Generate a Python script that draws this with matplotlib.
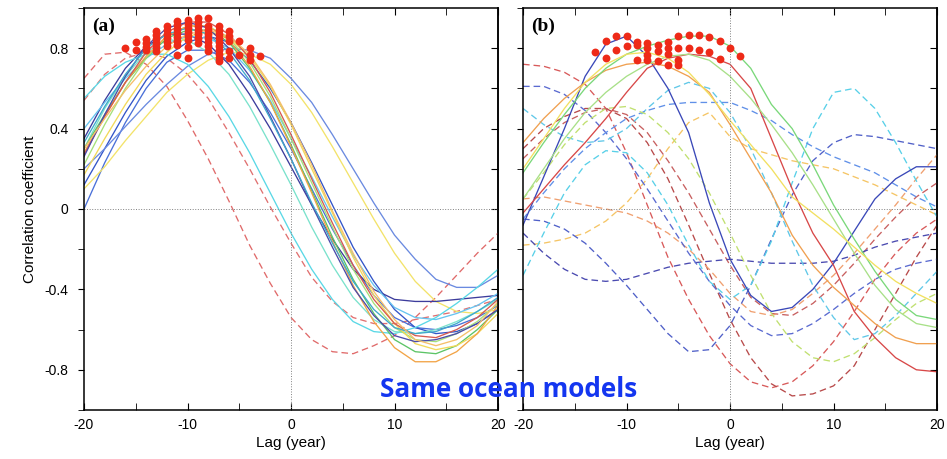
import numpy as np
import matplotlib
matplotlib.use("Agg")
import matplotlib.pyplot as plt
from matplotlib.ticker import MultipleLocator

plt.rcParams['font.family'] = ['Liberation Sans', 'DejaVu Sans']
plt.rcParams['axes.unicode_minus'] = False

# lag axis (years), every 2 years
lag = np.arange(-20, 21, 2)

# ---------------- panel (a): correlation curves ----------------
a_blue1 = [0.00, 0.23, 0.43, 0.60, 0.73, 0.79, 0.79, 0.74, 0.63, 0.48, 0.30, 0.10, -0.10, -0.28, -0.43, -0.54, -0.59, -0.60, -0.58, -0.54, -0.48]
a_blue2 = [0.12, 0.30, 0.48, 0.64, 0.76, 0.83, 0.86, 0.83, 0.74, 0.60, 0.43, 0.23, 0.02, -0.19, -0.36, -0.50, -0.59, -0.62, -0.61, -0.57, -0.50]
a_yellow1 = [0.10, 0.21, 0.34, 0.46, 0.58, 0.67, 0.74, 0.78, 0.77, 0.72, 0.62, 0.48, 0.31, 0.13, -0.05, -0.22, -0.36, -0.46, -0.51, -0.52, -0.50]
a_blue3 = [0.20, 0.30, 0.41, 0.52, 0.62, 0.71, 0.77, 0.80, 0.79, 0.75, 0.65, 0.53, 0.37, 0.20, 0.03, -0.13, -0.25, -0.35, -0.39, -0.39, -0.33]
a_navy1 = [0.35, 0.54, 0.70, 0.81, 0.87, 0.87, 0.82, 0.72, 0.57, 0.40, 0.21, 0.02, -0.15, -0.30, -0.40, -0.45, -0.46, -0.46, -0.45, -0.44, -0.43]
a_sky = [0.40, 0.53, 0.65, 0.75, 0.82, 0.86, 0.85, 0.80, 0.69, 0.54, 0.35, 0.16, -0.04, -0.23, -0.38, -0.49, -0.54, -0.55, -0.52, -0.48, -0.42]
a_cyan = [0.55, 0.66, 0.73, 0.77, 0.77, 0.72, 0.61, 0.46, 0.28, 0.08, -0.12, -0.30, -0.45, -0.56, -0.61, -0.62, -0.59, -0.54, -0.47, -0.39, -0.30]
a_turq = [0.30, 0.50, 0.66, 0.78, 0.84, 0.84, 0.78, 0.67, 0.51, 0.32, 0.12, -0.09, -0.28, -0.44, -0.55, -0.61, -0.62, -0.60, -0.56, -0.51, -0.45]
a_green = [0.30, 0.47, 0.63, 0.75, 0.85, 0.89, 0.89, 0.83, 0.70, 0.53, 0.32, 0.09, -0.14, -0.35, -0.52, -0.65, -0.71, -0.72, -0.68, -0.60, -0.50]
a_lgreen = [0.22, 0.42, 0.60, 0.75, 0.86, 0.91, 0.91, 0.85, 0.73, 0.56, 0.35, 0.13, -0.09, -0.30, -0.47, -0.59, -0.65, -0.66, -0.62, -0.56, -0.47]
a_yellow2 = [0.17, 0.35, 0.52, 0.67, 0.78, 0.86, 0.88, 0.85, 0.76, 0.61, 0.42, 0.20, -0.02, -0.24, -0.43, -0.57, -0.67, -0.70, -0.68, -0.62, -0.52]
a_orange1 = [0.28, 0.46, 0.63, 0.76, 0.86, 0.91, 0.91, 0.84, 0.71, 0.53, 0.31, 0.08, -0.16, -0.38, -0.56, -0.69, -0.76, -0.76, -0.71, -0.62, -0.48]
a_red = [0.27, 0.46, 0.63, 0.78, 0.88, 0.93, 0.93, 0.87, 0.75, 0.58, 0.37, 0.15, -0.07, -0.28, -0.45, -0.57, -0.63, -0.64, -0.60, -0.54, -0.45]
a_navy2 = [0.26, 0.47, 0.66, 0.81, 0.90, 0.93, 0.90, 0.80, 0.66, 0.46, 0.25, 0.02, -0.19, -0.39, -0.53, -0.63, -0.66, -0.65, -0.62, -0.57, -0.50]
a_teal = [0.33, 0.51, 0.67, 0.80, 0.87, 0.90, 0.87, 0.78, 0.64, 0.45, 0.25, 0.03, -0.17, -0.36, -0.50, -0.59, -0.62, -0.61, -0.57, -0.51, -0.44]
a_orange2 = [0.30, 0.45, 0.59, 0.71, 0.81, 0.87, 0.89, 0.86, 0.77, 0.62, 0.43, 0.22, -0.01, -0.22, -0.41, -0.55, -0.65, -0.68, -0.65, -0.58, -0.46]
a_dash1 = [0.65, 0.77, 0.78, 0.72, 0.61, 0.44, 0.25, 0.04, -0.18, -0.37, -0.54, -0.65, -0.71, -0.72, -0.68, -0.63, -0.54, -0.44, -0.33, -0.22, -0.12]
a_dash2 = [0.54, 0.67, 0.75, 0.78, 0.75, 0.67, 0.55, 0.38, 0.20, 0.01, -0.17, -0.34, -0.46, -0.54, -0.57, -0.57, -0.55, -0.53, -0.51, -0.48, -0.45]

# significant maxima (red dots), panel (a)
dots_a_lag = [-16, -15, -15, -14, -14, -14, -14,
              -13, -13, -13, -13, -13, -13, -12, -12, -12, -12, -12, -12,
              -11, -11, -11, -11, -11, -11, -11, -11,
              -10, -10, -10, -10, -10, -10, -10, -10,
              -9, -9, -9, -9, -9, -9, -9,
              -8, -8, -8, -8, -8, -8, -8, -8,
              -7, -7, -7, -7, -7, -7, -7, -7, -7, -7,
              -6, -6, -6, -6, -6, -5, -5, -4, -4, -4, -3]
dots_a_r = [0.80, 0.83, 0.79, 0.845, 0.825, 0.805, 0.79,
            0.885, 0.865, 0.845, 0.825, 0.805, 0.785, 0.91, 0.89, 0.87, 0.85, 0.83, 0.81,
            0.935, 0.915, 0.895, 0.875, 0.855, 0.835, 0.815, 0.765,
            0.94, 0.92, 0.90, 0.88, 0.86, 0.84, 0.805, 0.75,
            0.95, 0.93, 0.91, 0.89, 0.87, 0.85, 0.825,
            0.95, 0.91, 0.89, 0.87, 0.85, 0.83, 0.81, 0.785,
            0.91, 0.89, 0.87, 0.85, 0.83, 0.81, 0.79, 0.77, 0.75, 0.735,
            0.885, 0.86, 0.835, 0.785, 0.75, 0.835, 0.765, 0.80, 0.765, 0.74, 0.76]

# ---------------- panel (b) ----------------
b_blue = [-0.08, 0.16, 0.40, 0.66, 0.82, 0.86, 0.76, 0.60, 0.38, 0.03, -0.25, -0.43, -0.51, -0.49, -0.40, -0.27, -0.11, 0.05, 0.15, 0.21, 0.21]
b_red = [-0.02, 0.10, 0.22, 0.33, 0.45, 0.58, 0.70, 0.75, 0.77, 0.76, 0.72, 0.60, 0.35, 0.10, -0.12, -0.28, -0.51, -0.64, -0.74, -0.80, -0.81]
b_orange = [0.33, 0.45, 0.55, 0.63, 0.69, 0.72, 0.73, 0.71, 0.66, 0.58, 0.42, 0.25, 0.08, -0.13, -0.28, -0.39, -0.48, -0.57, -0.64, -0.67, -0.67]
b_green = [0.18, 0.33, 0.47, 0.60, 0.70, 0.77, 0.81, 0.84, 0.86, 0.86, 0.81, 0.70, 0.52, 0.40, 0.22, 0.02, -0.15, -0.31, -0.45, -0.53, -0.55]
b_lgreen = [0.05, 0.20, 0.35, 0.48, 0.58, 0.66, 0.72, 0.76, 0.77, 0.74, 0.66, 0.55, 0.42, 0.28, 0.12, -0.05, -0.22, -0.38, -0.50, -0.57, -0.59]
b_yellow = [0.20, 0.35, 0.50, 0.63, 0.72, 0.77, 0.78, 0.75, 0.68, 0.57, 0.44, 0.32, 0.20, 0.06, -0.02, -0.10, -0.19, -0.28, -0.36, -0.42, -0.47]

b_dred1 = [0.72, 0.71, 0.68, 0.62, 0.50, 0.28, 0.02, -0.24, -0.45, -0.63, -0.77, -0.86, -0.89, -0.86, -0.78, -0.66, -0.51, -0.35, -0.22, -0.12, -0.05]
b_dred2 = [0.30, 0.40, 0.46, 0.50, 0.50, 0.45, 0.33, 0.15, -0.08, -0.32, -0.55, -0.74, -0.87, -0.93, -0.92, -0.88, -0.78, -0.60, -0.42, -0.24, -0.08]
b_dred3 = [0.25, 0.35, 0.43, 0.48, 0.50, 0.47, 0.38, 0.24, 0.08, -0.10, -0.28, -0.44, -0.52, -0.53, -0.47, -0.38, -0.27, -0.15, -0.04, 0.06, 0.13]
b_dorange = [0.05, 0.06, 0.04, 0.02, 0.00, -0.02, -0.06, -0.12, -0.20, -0.30, -0.42, -0.51, -0.53, -0.50, -0.42, -0.33, -0.22, -0.10, 0.02, 0.15, 0.27]
b_dyellow = [-0.18, -0.17, -0.15, -0.12, -0.06, 0.03, 0.15, 0.30, 0.43, 0.48, 0.36, 0.30, 0.27, 0.24, 0.22, 0.20, 0.16, 0.12, 0.07, 0.02, -0.03]
b_dnavy1 = [-0.05, -0.06, -0.10, -0.17, -0.27, -0.38, -0.50, -0.62, -0.71, -0.70, -0.58, -0.38, -0.15, 0.07, 0.24, 0.33, 0.37, 0.36, 0.34, 0.32, 0.30]
b_dnavy2 = [-0.12, -0.22, -0.30, -0.35, -0.36, -0.35, -0.32, -0.29, -0.27, -0.26, -0.25, -0.26, -0.27, -0.27, -0.27, -0.26, -0.23, -0.19, -0.16, -0.14, -0.12]
b_dblue = [0.61, 0.61, 0.57, 0.49, 0.38, 0.25, 0.10, -0.06, -0.22, -0.36, -0.48, -0.58, -0.63, -0.62, -0.57, -0.50, -0.42, -0.35, -0.30, -0.27, -0.25]
b_dcyan1 = [0.50, 0.42, 0.36, 0.33, 0.34, 0.40, 0.50, 0.59, 0.63, 0.60, 0.48, 0.30, 0.08, -0.16, -0.38, -0.54, -0.65, -0.62, -0.53, -0.42, -0.31]
b_dcyan2 = [-0.33, -0.12, 0.08, 0.22, 0.29, 0.28, 0.18, 0.02, -0.18, -0.36, -0.45, -0.38, -0.16, 0.13, 0.40, 0.58, 0.60, 0.50, 0.33, 0.14, -0.04]
b_dsky = [-0.05, 0.08, 0.20, 0.30, 0.38, 0.45, 0.49, 0.52, 0.53, 0.53, 0.53, 0.49, 0.44, 0.37, 0.31, 0.26, 0.22, 0.18, 0.12, 0.06, 0.01]
b_dlime = [0.05, 0.18, 0.32, 0.43, 0.50, 0.51, 0.47, 0.38, 0.25, 0.08, -0.12, -0.33, -0.52, -0.66, -0.74, -0.76, -0.72, -0.64, -0.55, -0.47, -0.42]

dots_b_lag = [-13, -12, -12, -11, -11, -10, -10, -9, -9, -9,
              -8, -8, -8, -8, -7, -7, -7, -6, -6, -6, -6,
              -5, -5, -5, -5, -4, -4, -3, -3, -2, -2, -1, -1, 0, 1]
dots_b_r = [0.78, 0.835, 0.75, 0.86, 0.79, 0.86, 0.81, 0.83, 0.815, 0.74,
            0.825, 0.80, 0.765, 0.74, 0.815, 0.785, 0.735, 0.83, 0.80, 0.77, 0.715,
            0.86, 0.80, 0.74, 0.715, 0.865, 0.80, 0.865, 0.79, 0.855, 0.78, 0.835, 0.745, 0.80, 0.76]

# (curve, colour, linestyle) for each panel
lines_a = [(a_dash1, '#e06a6a', 'dash'), (a_dash2, '#e07070', 'dash'),
           (a_blue1, '#4a70d8', 'solid'), (a_blue2, '#3355c8', 'solid'),
           (a_yellow1, '#f3e36a', 'solid'), (a_blue3, '#6a8ae0', 'solid'),
           (a_navy1, '#3c3c9c', 'solid'), (a_sky, '#66c4f0', 'solid'),
           (a_cyan, '#5ad8e6', 'solid'), (a_turq, '#7ae2cc', 'solid'),
           (a_green, '#5cc466', 'solid'), (a_lgreen, '#a6e07a', 'solid'),
           (a_yellow2, '#f2d95a', 'solid'), (a_orange1, '#f2a447', 'solid'),
           (a_red, '#d65a50', 'solid'), (a_navy2, '#4b4baa', 'solid'),
           (a_teal, '#3fa8cc', 'solid'), (a_orange2, '#f5bf6a', 'solid')]
lines_b = [(b_dred1, '#d85a5a', 'dash'), (b_dred2, '#b84a4a', 'dash'),
           (b_dred3, '#c86060', 'dash'), (b_dorange, '#f0a070', 'dash'),
           (b_dyellow, '#f5c565', 'dash'), (b_dnavy1, '#5060c8', 'dash'),
           (b_dnavy2, '#4a4ab0', 'dash'), (b_dblue, '#5a6ad0', 'dash'),
           (b_dcyan1, '#60c8e8', 'dash'), (b_dcyan2, '#58d0e8', 'dash'),
           (b_dsky, '#6090e8', 'dash'), (b_dlime, '#c0e070', 'dash'),
           (b_blue, '#3a48b8', 'solid'), (b_red, '#d84848', 'solid'),
           (b_orange, '#f0a050', 'solid'), (b_green, '#7ad87a', 'solid'),
           (b_lgreen, '#a8e088', 'solid'), (b_yellow, '#f2e060', 'solid')]


def draw_panel(ax, lines, dlag, dr, tag, show_ylabels):
    for vals, col, ls in lines:
        if ls == 'dash':
            ax.plot(lag, vals, color=col, lw=0.95, dashes=(5, 3))
        else:
            ax.plot(lag, vals, color=col, lw=0.95)
    ax.scatter(dlag, dr, s=32, color='#ee2a18', zorder=5, linewidths=0)
    ax.axhline(0, color='gray', lw=0.7, ls=':')
    ax.axvline(0, color='gray', lw=0.7, ls=':')
    ax.set_xlim(-20, 20)
    ax.set_ylim(-1, 1)
    ax.xaxis.set_minor_locator(MultipleLocator(5))
    ax.yaxis.set_minor_locator(MultipleLocator(0.2))
    ax.set_yticks([-0.8, -0.4, 0, 0.4, 0.8])
    ax.set_xticks([-20, -10, 0, 10, 20])
    ax.set_xticklabels(['-20', '-10', '0', '10', '20'], fontsize=10)
    if show_ylabels:
        ax.set_yticklabels(['-0.8', '-0.4', '0', '0.4', '0.8'], fontsize=10)
    else:
        ax.set_yticklabels([])
    ax.tick_params(axis='x', which='both', direction='in', top=True, length=5, pad=6)
    ax.tick_params(axis='y', which='both', direction='out', length=4, pad=7)
    sec = ax.secondary_yaxis('right')
    sec.set_yticks([-0.8, -0.6, -0.4, -0.2, 0, 0.2, 0.4, 0.6, 0.8])
    sec.tick_params(direction='in', length=5, labelright=False)
    for sp in ax.spines.values():
        sp.set_linewidth(1.1)
    sec.spines['right'].set_linewidth(1.1)
    ax.set_xlabel('Lag (year)', fontsize=11, labelpad=3)
    ax.text(0.02, 0.975, tag, transform=ax.transAxes, fontsize=14, fontweight='bold',
            family=['Liberation Serif', 'DejaVu Serif'], va='top', ha='left')


fig = plt.figure(figsize=(9.47, 4.59), dpi=100)
ax_a = fig.add_axes([0.0887, 0.1068, 0.4372, 0.8758])
ax_b = fig.add_axes([0.5523, 0.1068, 0.4372, 0.8758])

draw_panel(ax_a, lines_a, dots_a_lag, dots_a_r, '(a)', True)
draw_panel(ax_b, lines_b, dots_b_lag, dots_b_r, '(b)', False)

ax_a.set_ylabel('Correlation coefficient', fontsize=11, labelpad=6)

fig.text(0.5366, 0.152, 'Same ocean models', color='#1436f0', fontsize=18.8,
         fontweight='bold', family=['Open Sans', 'DejaVu Sans'], ha='center', va='center')

fig.savefig('out.png', dpi=100)
